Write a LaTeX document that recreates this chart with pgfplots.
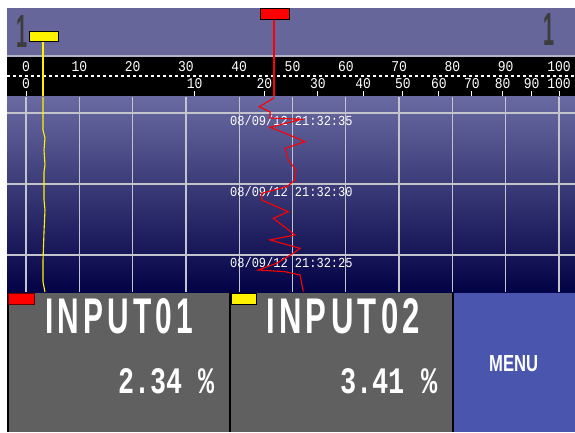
\documentclass[border=0pt]{standalone}
\usepackage{pgfplots}
\pgfplotsset{compat=1.18}
\usepackage{fontspec}
\setmainfont{Liberation Sans}
\newfontfamily\lcdmono{Liberation Mono}
\newfontfamily\lcdwide{Liberation Sans}[LetterSpace=14]

\definecolor{bandpurple}{HTML}{66669A}
\definecolor{bandline}{HTML}{B4B4C8}
\definecolor{chartTop}{HTML}{6A6AA2}
\definecolor{chartMid}{HTML}{2C2C78}
\definecolor{chartBot}{HTML}{020246}
\definecolor{panelgray}{HTML}{606060}
\definecolor{panelblue}{HTML}{4A56AE}
\definecolor{gridgray}{HTML}{C4C4CC}
\definecolor{glyphgray}{HTML}{3C3C3C}

% white text resized to a box (x, y = top left in pixels)
\newcommand{\lcdtext}[5]{%
  \node[anchor=north west, inner sep=0pt, text=white] at (axis cs:#1,#2)
    {\resizebox{#3pt}{#4pt}{#5}};
}

\begin{document}
\begin{tikzpicture}
\useasboundingbox (0,0) rectangle (575pt,432pt);

% screen frame, bands and panels, in pixel units
\begin{axis}[
  at={(0pt,0pt)}, anchor=south west,
  scale only axis, width=575pt, height=432pt,
  xmin=0, xmax=575, ymin=0, ymax=432,
  y dir=reverse,
  hide axis,
]
\fill[white] (0,0) rectangle (575,432);
\fill[bandpurple] (7,8) rectangle (575,55);
\fill[bandline] (7,55) rectangle (575,57);
\fill[black] (7,57) rectangle (575,96);
\fill[bandline] (7,96) rectangle (575,97.5);
\draw[white, line width=1.5pt, dash pattern=on 3pt off 3pt] (7,76) -- (575,76);

% upper (linear) scale
\pgfplotsinvokeforeach{0,10,20,30,40,50,60,70,80,90,100}{
  \node[text=white, inner sep=0pt, font=\lcdmono\fontsize{13}{13}\selectfont]
    at (axis cs:{26+5.33*#1},67) {\scalebox{1}[1.15]{#1}};
}
% lower (square root) scale
\pgfplotsinvokeforeach{0,10,20,30,40,50,60,70,80,90,100}{
  \node[text=white, inner sep=0pt, font=\lcdmono\fontsize{13}{13}\selectfont]
    at (axis cs:{26+533*sqrt(#1/100)},83.5) {\scalebox{1}[1.15]{#1}};
  \draw[white, line width=1pt] (axis cs:{26+533*sqrt(#1/100)},91) -- (axis cs:{26+533*sqrt(#1/100)},96);
}

% "1" glyphs
\node[inner sep=0pt, text=glyphgray] at (axis cs:22,31)
  {\resizebox{11pt}{32pt}{\bfseries 1}};
\node[inner sep=0pt, text=glyphgray] at (axis cs:549,29)
  {\resizebox{11pt}{32pt}{\bfseries 1}};

% pointer flags
\draw[red, line width=1.2pt] (274,19) -- (274,97.5);
\filldraw[fill=red, draw=black, line width=0.8pt] (260,8.5) rectangle (289,19);
\draw[yellow, line width=1.2pt] (43,41) -- (43,97.5);
\filldraw[fill=yellow, draw=black, line width=0.8pt] (29,31) rectangle (58,41);

% bottom panels
\fill[panelgray] (7,292) rectangle (230,432);
\fill[panelgray] (230,292) rectangle (453,432);
\fill[panelblue] (453,292) rectangle (575,432);
\draw[black, line width=1.5pt] (7.75,292) -- (7.75,432);
\draw[black, line width=1.5pt] (230,292) -- (230,432);
\draw[black, line width=1.5pt] (453,292) -- (453,432);
\filldraw[fill=red, draw=black!60!red, line width=0.8pt] (8.5,293) rectangle (34,304);
\filldraw[fill=yellow, draw=black, line width=0.8pt] (231,293) rectangle (256,304);

\lcdtext{45}{298}{148}{35}{\lcdwide\bfseries INPUT01}
\lcdtext{266}{298}{154}{35}{\lcdwide\bfseries INPUT02}
\lcdtext{118}{368}{96}{25}{\lcdmono\bfseries 2.34 \%}
\lcdtext{340}{368}{97}{25}{\lcdmono\bfseries 3.41 \%}
\lcdtext{489}{355}{49}{16}{\bfseries MENU}
\end{axis}

% trend area: x = position on the 0-100 scale, y = time in seconds (21:32:ss)
\begin{axis}[
  at={(7pt,140pt)}, anchor=south west,
  scale only axis, width=568pt, height=195pt,
  xmin=-3.565, xmax=103.0, ymin=22.39, ymax=36.13,
  axis background/.style={top color=chartTop, middle color=chartMid, bottom color=chartBot},
  axis line style={draw=none},
  xtick={0,10,20,30,40,50,60,70,80,90,100},
  ytick={25,30,35},
  xticklabels={}, yticklabels={},
  major tick length=0pt,
  grid=major,
  grid style={gridgray, line width=1.3pt},
]
\node[anchor=north west, inner sep=0pt, text=white, font=\lcdmono\fontsize{12}{12}\selectfont]
  at (axis cs:38.27,34.86) {\scalebox{1}[1.15]{08/09/12 21:32:35}};
\node[anchor=north west, inner sep=0pt, text=white, font=\lcdmono\fontsize{12}{12}\selectfont]
  at (axis cs:38.27,29.86) {\scalebox{1}[1.15]{08/09/12 21:32:30}};
\node[anchor=north west, inner sep=0pt, text=white, font=\lcdmono\fontsize{12}{12}\selectfont]
  at (axis cs:38.27,24.86) {\scalebox{1}[1.15]{08/09/12 21:32:25}};

% INPUT01 (red)
\addplot[red, line width=1.1pt] coordinates {
(46.53,36.13) (46.40,36.04) (43.77,35.44) (45.78,35.09) (45.78,34.65)
(51.73,34.56) (49.53,34.35) (45.78,33.99) (47.97,33.68) (52.35,32.98)
(48.59,32.51) (49.21,31.69) (50.66,30.99) (50.47,30.28) (48.91,29.81)
(44.22,29.35) (44.22,28.87) (49.21,28.05) (46.40,27.58) (50.47,26.41)
(45.78,26.06) (51.41,25.47) (50.15,25.12) (47.04,24.42) (43.58,23.94)
(48.59,23.82) (51.41,23.59) (52.03,22.42)
};
% INPUT02 (yellow)
\addplot[yellow, line width=1.1pt] coordinates {
(3.19,36.13) (3.19,33.80) (3.56,33.24) (3.38,32.39) (3.56,31.34)
(3.38,30.85) (3.38,28.87) (3.56,28.17) (3.38,26.62) (3.19,24.65)
(3.19,23.10) (3.56,22.39)
};
\end{axis}
\end{tikzpicture}
\end{document}
